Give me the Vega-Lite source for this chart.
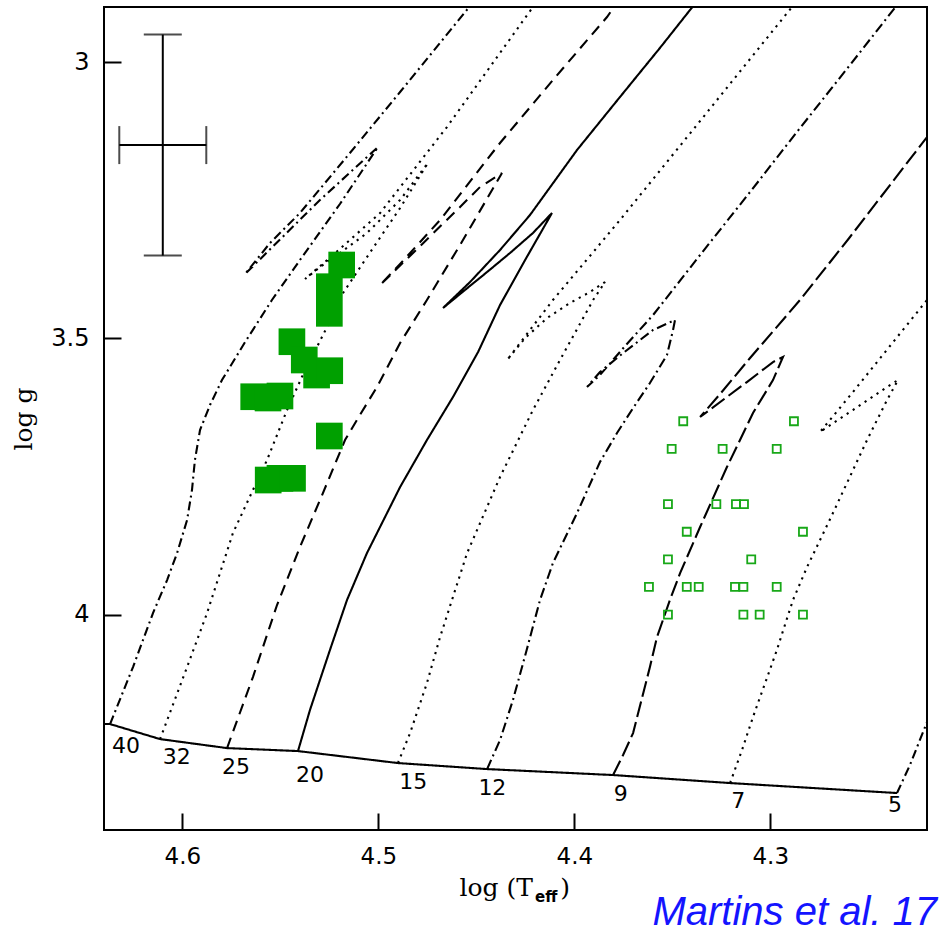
{
  "$schema": "https://vega.github.io/schema/vega-lite/v6.json",
  "width": 823,
  "height": 823,
  "autosize": {"type": "none"},
  "padding": {"left": 104, "top": 7, "right": 18, "bottom": 102},
  "background": "white",
  "title": {"text": "Martins et al. 17", "orient": "bottom", "anchor": "end", "font": "Liberation Sans", "fontStyle": "italic", "fontWeight": "normal", "fontSize": 40, "color": "#1414ff", "dx": 10, "offset": -12},
  "config": {
    "view": {"stroke": "black", "strokeWidth": 2},
    "axis": {"labelColor": "black", "titleColor": "black"}
  },
  "datasets": {
    "tracks": [
      {"t":"ZAMS","i":1,"x":4.645,"y":4.1982},{"t":"ZAMS","i":2,"x":4.6369,"y":4.1982},{"t":"ZAMS","i":3,"x":4.6114,"y":4.2254},{"t":"ZAMS","i":4,"x":4.5772,"y":4.2417},{"t":"ZAMS","i":5,"x":4.5410,"y":4.2471},{"t":"ZAMS","i":6,"x":4.4900,"y":4.2688},{"t":"ZAMS","i":7,"x":4.4445,"y":4.2797},{"t":"ZAMS","i":8,"x":4.3802,"y":4.2905},{"t":"ZAMS","i":9,"x":4.3205,"y":4.3050},{"t":"ZAMS","i":10,"x":4.2353,"y":4.3231},
      {"t":"40","i":1,"x":4.6369,"y":4.1982},{"t":"40","i":2,"x":4.6252,"y":4.0950},{"t":"40","i":3,"x":4.6150,"y":3.9972},{"t":"40","i":4,"x":4.6078,"y":3.9375},{"t":"40","i":5,"x":4.6027,"y":3.8886},{"t":"40","i":6,"x":4.5976,"y":3.8288},{"t":"40","i":7,"x":4.5951,"y":3.7745},{"t":"40","i":8,"x":4.5936,"y":3.7202},{"t":"40","i":9,"x":4.5910,"y":3.6659},{"t":"40","i":10,"x":4.5859,"y":3.6206},{"t":"40","i":11,"x":4.5798,"y":3.5754},{"t":"40","i":12,"x":4.5680,"y":3.5066},{"t":"40","i":13,"x":4.5543,"y":3.4305},{"t":"40","i":14,"x":4.5400,"y":3.3581},{"t":"40","i":15,"x":4.5196,"y":3.2567},{"t":"40","i":16,"x":4.5002,"y":3.1535},{"t":"40","i":17,"x":4.5298,"y":3.2494},{"t":"40","i":18,"x":4.5680,"y":3.3834},{"t":"40","i":19,"x":4.5553,"y":3.3273},{"t":"40","i":20,"x":4.5400,"y":3.2730},{"t":"40","i":21,"x":4.5145,"y":3.1643},{"t":"40","i":22,"x":4.4889,"y":3.0539},{"t":"40","i":23,"x":4.4507,"y":2.8873},
      {"t":"32","i":1,"x":4.6114,"y":4.2254},{"t":"32","i":2,"x":4.5976,"y":4.0950},{"t":"32","i":3,"x":4.5874,"y":3.9972},{"t":"32","i":4,"x":4.5808,"y":3.9248},{"t":"32","i":5,"x":4.5742,"y":3.8524},{"t":"32","i":6,"x":4.5640,"y":3.7745},{"t":"32","i":7,"x":4.5568,"y":3.7202},{"t":"32","i":8,"x":4.5466,"y":3.6297},{"t":"32","i":9,"x":4.5390,"y":3.5699},{"t":"32","i":10,"x":4.5262,"y":3.4794},{"t":"32","i":11,"x":4.5180,"y":3.4178},{"t":"32","i":12,"x":4.5058,"y":3.3527},{"t":"32","i":13,"x":4.4889,"y":3.2639},{"t":"32","i":14,"x":4.4747,"y":3.1825},{"t":"32","i":15,"x":4.4889,"y":3.2494},{"t":"32","i":16,"x":4.5058,"y":3.3092},{"t":"32","i":17,"x":4.5196,"y":3.3454},{"t":"32","i":18,"x":4.5298,"y":3.3708},{"t":"32","i":19,"x":4.5374,"y":3.3925},{"t":"32","i":20,"x":4.5231,"y":3.3490},{"t":"32","i":21,"x":4.4991,"y":3.2730},{"t":"32","i":22,"x":4.4650,"y":3.1173},{"t":"32","i":23,"x":4.4211,"y":2.9000},{"t":"32","i":24,"x":4.4185,"y":2.8873},
      {"t":"25","i":1,"x":4.5772,"y":4.2417},{"t":"25","i":2,"x":4.5640,"y":4.1131},{"t":"25","i":3,"x":4.5517,"y":3.9827},{"t":"25","i":4,"x":4.5400,"y":3.8777},{"t":"25","i":5,"x":4.5287,"y":3.7836},{"t":"25","i":6,"x":4.5170,"y":3.6840},{"t":"25","i":7,"x":4.5094,"y":3.6387},{"t":"25","i":8,"x":4.5007,"y":3.5880},{"t":"25","i":9,"x":4.4889,"y":3.5084},{"t":"25","i":10,"x":4.4752,"y":3.4305},{"t":"25","i":11,"x":4.4583,"y":3.3309},{"t":"25","i":12,"x":4.4369,"y":3.2006},{"t":"25","i":13,"x":4.4481,"y":3.2259},{"t":"25","i":14,"x":4.4583,"y":3.2621},{"t":"25","i":15,"x":4.4823,"y":3.3454},{"t":"25","i":16,"x":4.4991,"y":3.4034},{"t":"25","i":17,"x":4.4889,"y":3.3653},{"t":"25","i":18,"x":4.4685,"y":3.2857},{"t":"25","i":19,"x":4.4379,"y":3.1462},{"t":"25","i":20,"x":4.4109,"y":3.0322},{"t":"25","i":21,"x":4.3833,"y":2.9181},{"t":"25","i":22,"x":4.3772,"y":2.8873},
      {"t":"20","i":1,"x":4.5410,"y":4.2471},{"t":"20","i":2,"x":4.5349,"y":4.1729},{"t":"20","i":3,"x":4.5298,"y":4.1185},{"t":"20","i":4,"x":4.5247,"y":4.0642},{"t":"20","i":5,"x":4.5160,"y":3.9737},{"t":"20","i":6,"x":4.5058,"y":3.8886},{"t":"20","i":7,"x":4.4889,"y":3.7691},{"t":"20","i":8,"x":4.4752,"y":3.6840},{"t":"20","i":9,"x":4.4619,"y":3.6061},{"t":"20","i":10,"x":4.4491,"y":3.5247},{"t":"20","i":11,"x":4.4379,"y":3.4396},{"t":"20","i":12,"x":4.4251,"y":3.3581},{"t":"20","i":13,"x":4.4114,"y":3.2730},{"t":"20","i":14,"x":4.4211,"y":3.3092},{"t":"20","i":15,"x":4.4328,"y":3.3454},{"t":"20","i":16,"x":4.4445,"y":3.3798},{"t":"20","i":17,"x":4.4558,"y":3.4124},{"t":"20","i":18,"x":4.4670,"y":3.4450},{"t":"20","i":19,"x":4.4532,"y":3.3979},{"t":"20","i":20,"x":4.4379,"y":3.3400},{"t":"20","i":21,"x":4.4226,"y":3.2766},{"t":"20","i":22,"x":4.3986,"y":3.1589},{"t":"20","i":23,"x":4.3767,"y":3.0630},{"t":"20","i":24,"x":4.3563,"y":2.9742},{"t":"20","i":25,"x":4.3369,"y":2.8873},
      {"t":"15","i":1,"x":4.4900,"y":4.2688},{"t":"15","i":2,"x":4.4838,"y":4.2145},{"t":"15","i":3,"x":4.4752,"y":4.1240},{"t":"15","i":4,"x":4.4685,"y":4.0407},{"t":"15","i":5,"x":4.4547,"y":3.8886},{"t":"15","i":6,"x":4.4379,"y":3.7510},{"t":"15","i":7,"x":4.4211,"y":3.6297},{"t":"15","i":8,"x":4.4073,"y":3.5391},{"t":"15","i":9,"x":4.3904,"y":3.4305},{"t":"15","i":10,"x":4.3843,"y":3.3979},{"t":"15","i":11,"x":4.3920,"y":3.4160},{"t":"15","i":12,"x":4.4022,"y":3.4359},{"t":"15","i":13,"x":4.4139,"y":3.4631},{"t":"15","i":14,"x":4.4251,"y":3.4993},{"t":"15","i":15,"x":4.4343,"y":3.5391},{"t":"15","i":16,"x":4.4226,"y":3.4848},{"t":"15","i":17,"x":4.4109,"y":3.4305},{"t":"15","i":18,"x":4.3869,"y":3.3291},{"t":"15","i":19,"x":4.3767,"y":3.2857},{"t":"15","i":20,"x":4.3358,"y":3.1064},{"t":"15","i":21,"x":4.2889,"y":2.9000},{"t":"15","i":22,"x":4.2858,"y":2.8873},
      {"t":"12","i":1,"x":4.4445,"y":4.2797},{"t":"12","i":2,"x":4.4379,"y":4.2272},{"t":"12","i":3,"x":4.4313,"y":4.1547},{"t":"12","i":4,"x":4.4243,"y":4.0642},{"t":"12","i":5,"x":4.4175,"y":3.9737},{"t":"12","i":6,"x":4.4109,"y":3.9067},{"t":"12","i":7,"x":4.3986,"y":3.8162},{"t":"12","i":8,"x":4.3869,"y":3.7238},{"t":"12","i":9,"x":4.3782,"y":3.6713},{"t":"12","i":10,"x":4.3700,"y":3.6261},{"t":"12","i":11,"x":4.3614,"y":3.5808},{"t":"12","i":12,"x":4.3527,"y":3.5301},{"t":"12","i":13,"x":4.3496,"y":3.4848},{"t":"12","i":14,"x":4.3486,"y":3.4667},{"t":"12","i":15,"x":4.3598,"y":3.4848},{"t":"12","i":16,"x":4.3751,"y":3.5265},{"t":"12","i":17,"x":4.3869,"y":3.5609},{"t":"12","i":18,"x":4.3935,"y":3.5880},{"t":"12","i":19,"x":4.3869,"y":3.5663},{"t":"12","i":20,"x":4.3741,"y":3.5138},{"t":"12","i":21,"x":4.3598,"y":3.4577},{"t":"12","i":22,"x":4.3358,"y":3.3490},{"t":"12","i":23,"x":4.3103,"y":3.2350},{"t":"12","i":24,"x":4.2848,"y":3.1191},{"t":"12","i":25,"x":4.2593,"y":3.0050},{"t":"12","i":26,"x":4.2353,"y":2.8964},{"t":"12","i":27,"x":4.2328,"y":2.8873},
      {"t":"9","i":1,"x":4.3802,"y":4.2905},{"t":"9","i":2,"x":4.3751,"y":4.2543},{"t":"9","i":3,"x":4.3700,"y":4.2145},{"t":"9","i":4,"x":4.3614,"y":4.0950},{"t":"9","i":5,"x":4.3578,"y":4.0407},{"t":"9","i":6,"x":4.3512,"y":3.9737},{"t":"9","i":7,"x":4.3460,"y":3.9248},{"t":"9","i":8,"x":4.3358,"y":3.8415},{"t":"9","i":9,"x":4.3221,"y":3.7329},{"t":"9","i":10,"x":4.3088,"y":3.6351},{"t":"9","i":11,"x":4.2986,"y":3.5754},{"t":"9","i":12,"x":4.2935,"y":3.5337},{"t":"9","i":13,"x":4.2986,"y":3.5428},{"t":"9","i":14,"x":4.3119,"y":3.5790},{"t":"9","i":15,"x":4.3358,"y":3.6423},{"t":"9","i":16,"x":4.3256,"y":3.6007},{"t":"9","i":17,"x":4.3103,"y":3.5355},{"t":"9","i":18,"x":4.2848,"y":3.4305},{"t":"9","i":19,"x":4.2593,"y":3.3164},{"t":"9","i":20,"x":4.2200,"y":3.1354},{"t":"9","i":21,"x":4.2159,"y":3.1173},
      {"t":"7","i":1,"x":4.3205,"y":4.3050},{"t":"7","i":2,"x":4.3144,"y":4.2453},{"t":"7","i":3,"x":4.3088,"y":4.1855},{"t":"7","i":4,"x":4.2966,"y":4.0642},{"t":"7","i":5,"x":4.2945,"y":4.0407},{"t":"7","i":6,"x":4.2884,"y":3.9737},{"t":"7","i":7,"x":4.2812,"y":3.9139},{"t":"7","i":8,"x":4.2680,"y":3.8162},{"t":"7","i":9,"x":4.2506,"y":3.6840},{"t":"7","i":10,"x":4.2404,"y":3.6116},{"t":"7","i":11,"x":4.2348,"y":3.5754},{"t":"7","i":12,"x":4.2404,"y":3.5880},{"t":"7","i":13,"x":4.2578,"y":3.6297},{"t":"7","i":14,"x":4.2746,"y":3.6695},{"t":"7","i":15,"x":4.2578,"y":3.5971},{"t":"7","i":16,"x":4.2389,"y":3.5138},{"t":"7","i":17,"x":4.2200,"y":3.4305},{"t":"7","i":18,"x":4.2159,"y":3.4124},
      {"t":"5","i":1,"x":4.2353,"y":4.3231},{"t":"5","i":2,"x":4.2287,"y":4.2724},{"t":"5","i":3,"x":4.2210,"y":4.2036},{"t":"5","i":4,"x":4.2159,"y":4.1584}
    ],
    "filled": [
      {"x":4.5187,"y":3.3671},{"x":4.5250,"y":3.4064},{"x":4.5250,"y":3.4546},{"x":4.5441,"y":3.5060},{"x":4.5378,"y":3.5391},{"x":4.5315,"y":3.5663},{"x":4.5248,"y":3.5585},{"x":4.5636,"y":3.6056},{"x":4.5563,"y":3.6079},{"x":4.5502,"y":3.6043},{"x":4.5250,"y":3.6767},{"x":4.5562,"y":3.7564},{"x":4.5502,"y":3.7533},{"x":4.5438,"y":3.7533}
    ],
    "open": [
      {"x":4.3444,"y":3.65},{"x":4.2879,"y":3.65},
      {"x":4.3503,"y":3.70},{"x":4.3243,"y":3.70},{"x":4.2967,"y":3.70},
      {"x":4.3522,"y":3.80},{"x":4.3275,"y":3.80},{"x":4.3175,"y":3.80},{"x":4.3134,"y":3.80},
      {"x":4.3426,"y":3.85},{"x":4.2833,"y":3.85},
      {"x":4.3522,"y":3.90},{"x":4.3097,"y":3.90},
      {"x":4.3619,"y":3.95},{"x":4.3426,"y":3.95},{"x":4.3365,"y":3.95},{"x":4.3180,"y":3.95},{"x":4.3137,"y":3.95},{"x":4.2967,"y":3.95},
      {"x":4.3522,"y":4.00},{"x":4.3137,"y":4.00},{"x":4.3054,"y":4.00},{"x":4.2833,"y":4.00}
    ],
    "labels": [
      {"m":"40","x":4.6288,"y":4.2380},{"m":"32","x":4.6029,"y":4.2574},{"m":"25","x":4.5726,"y":4.2766},{"m":"20","x":4.5349,"y":4.2905},{"m":"15","x":4.4822,"y":4.3038},{"m":"12","x":4.4418,"y":4.3146},{"m":"9","x":4.3763,"y":4.3250},{"m":"7","x":4.3163,"y":4.3376},{"m":"5","x":4.2363,"y":4.3439}
    ],
    "err": [
      {"x":4.61,"y":3.15,"ylo":2.95,"yhi":3.35,"xlo":4.6322,"xhi":4.5878}
    ],
    "xtitle": [
      {"s":"log (T","x":4.4211,"y":4.5096},{"s":")","x":4.4022,"y":4.5096}
    ],
    "sub": [
      {"s":"eff","x":4.4200,"y":4.5205}
    ]
  },
  "layer": [
    {
      "data": {"name": "tracks"},
      "mark": {"type": "line", "clip": true, "color": "black", "strokeWidth": 2.1, "strokeCap": "butt", "interpolate": "linear"},
      "encoding": {
        "x": {"field": "x", "type": "quantitative", "scale": {"domain": [4.64, 4.22], "nice": false, "zero": false},
          "axis": {"orient": "bottom", "values": [4.6, 4.5, 4.4, 4.3], "format": "~g", "grid": false, "domain": false, "labelFlush": false, "tickColor": "black", "tickWidth": 2, "tickSize": 17, "offset": -17, "labelFont": "DejaVu Sans", "labelFontSize": 23, "labelPadding": 15, "title": null}},
        "y": {"field": "y", "type": "quantitative", "scale": {"domain": [4.39, 2.9], "nice": false, "zero": false},
          "axis": {"orient": "left", "values": [3, 3.5, 4], "format": "~g", "grid": false, "domain": false, "labelFlush": false, "tickColor": "black", "tickWidth": 2, "tickSize": 17, "offset": -17, "labelFont": "DejaVu Sans", "labelFontSize": 24, "labelPadding": 15, "title": "log g", "titleFont": "DejaVu Serif", "titleFontSize": 25, "titleFontWeight": "normal", "titlePadding": 14}},
        "strokeDash": {"field": "t", "type": "nominal", "legend": null,
          "scale": {"domain": ["ZAMS", "40", "32", "25", "20", "15", "12", "9", "7", "5"],
                    "range": [[1, 0], [9, 4, 2, 4], [2.2, 5], [11, 7], [1, 0], [2.2, 5], [10, 4, 2, 4], [16, 5], [2.2, 5], [9, 4, 2, 4]]}},
        "order": {"field": "i", "type": "quantitative"}
      }
    },
    {
      "data": {"name": "filled"},
      "mark": {"type": "point", "shape": "square", "filled": true, "color": "#00a000", "opacity": 1, "size": 712},
      "encoding": {
        "x": {"field": "x", "type": "quantitative"},
        "y": {"field": "y", "type": "quantitative"}
      }
    },
    {
      "data": {"name": "open"},
      "mark": {"type": "point", "shape": "square", "filled": false, "color": "#18a818", "opacity": 1, "strokeWidth": 1.8, "size": 64},
      "encoding": {
        "x": {"field": "x", "type": "quantitative"},
        "y": {"field": "y", "type": "quantitative"}
      }
    },
    {
      "data": {"name": "labels"},
      "mark": {"type": "text", "font": "DejaVu Sans", "fontSize": 22, "color": "black", "align": "center", "baseline": "middle"},
      "encoding": {
        "x": {"field": "x", "type": "quantitative"},
        "y": {"field": "y", "type": "quantitative"},
        "text": {"field": "m", "type": "nominal"}
      }
    },
    {
      "data": {"name": "err"},
      "mark": {"type": "errorbar", "ticks": {"size": 38, "color": "black"}, "thickness": 2, "color": "black"},
      "encoding": {
        "x": {"field": "x", "type": "quantitative"},
        "y": {"field": "ylo", "type": "quantitative", "title": "log g"},
        "y2": {"field": "yhi"}
      }
    },
    {
      "data": {"name": "err"},
      "mark": {"type": "errorbar", "ticks": {"size": 38, "color": "black"}, "thickness": 2, "color": "black"},
      "encoding": {
        "y": {"field": "y", "type": "quantitative"},
        "x": {"field": "xlo", "type": "quantitative"},
        "x2": {"field": "xhi"}
      }
    },
    {
      "data": {"name": "xtitle"},
      "mark": {"type": "text", "font": "DejaVu Serif", "fontSize": 25, "color": "black", "align": "right", "baseline": "alphabetic"},
      "encoding": {
        "x": {"field": "x", "type": "quantitative"},
        "y": {"field": "y", "type": "quantitative"},
        "text": {"field": "s", "type": "nominal"}
      }
    },
    {
      "data": {"name": "sub"},
      "mark": {"type": "text", "font": "DejaVu Sans", "fontSize": 15, "fontWeight": "bold", "color": "black", "align": "left", "baseline": "alphabetic"},
      "encoding": {
        "x": {"field": "x", "type": "quantitative"},
        "y": {"field": "y", "type": "quantitative"},
        "text": {"field": "s", "type": "nominal"}
      }
    }
  ]
}
